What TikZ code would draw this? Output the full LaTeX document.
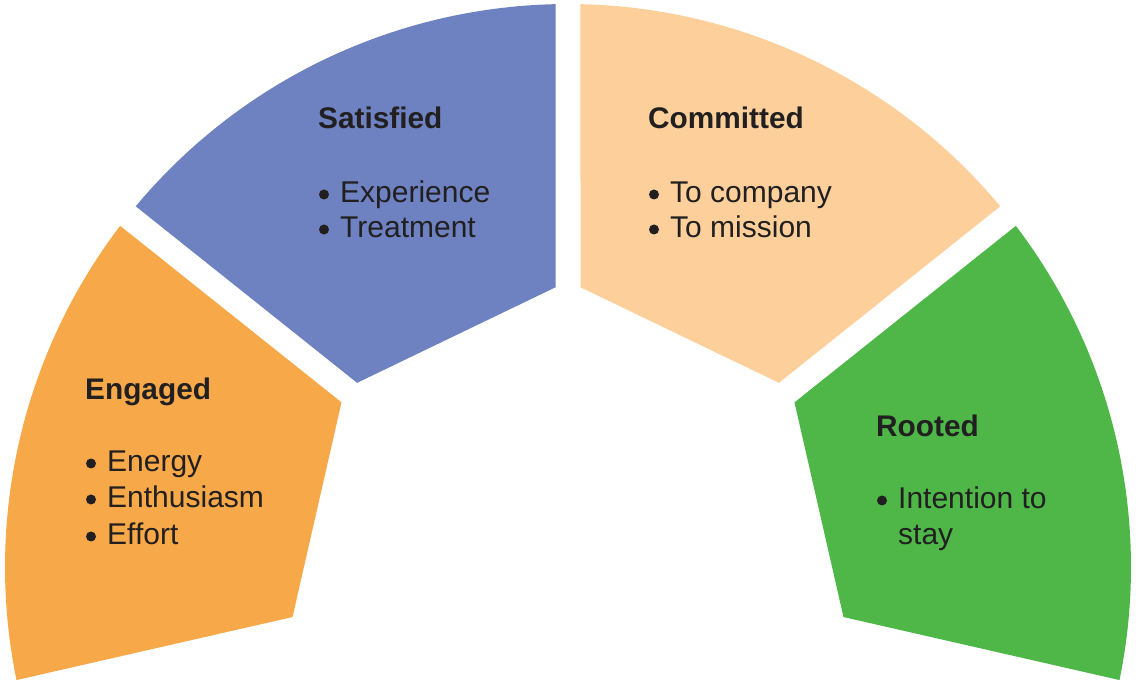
\documentclass[tikz,border=0pt]{standalone}
\usepackage{fontspec}
\setmainfont{Liberation Sans}
\definecolor{segorange}{RGB}{247,168,72}
\definecolor{segblue}{RGB}{110,129,192}
\definecolor{segpeach}{RGB}{253,208,155}
\definecolor{seggreen}{RGB}{78,183,72}
\definecolor{ink}{RGB}{34,31,32}
% bulleted line: name, position of text start, text
\newcommand{\bitem}[3]{%
  \node[item] (#1) at (#2) {#3};
  \fill[ink] (#1.base west) ++(-16,8.5) circle (5pt);}
\begin{document}
\begin{tikzpicture}[x=1pt,y=1pt,
  head/.style={anchor=base west,inner sep=0pt,
    font=\fontsize{29.8}{36}\selectfont\bfseries,text=ink},
  item/.style={anchor=base west,inner sep=0pt,
    font=\fontsize{30}{36}\selectfont,text=ink}]
\useasboundingbox (0,0) rectangle (1136,686);
\coordinate (O) at (568,119);
% four ring segments of 360/7 degrees each, separated by parallel-sided gaps
\begin{scope}[shift={(O)}]
  \foreach \a/\b/\c in {192.857/141.429/segorange, 141.429/90/segblue,
                        90/38.571/segpeach, 38.571/-12.857/seggreen}{
    \fill[\c] ({\a-1.272}:563pt)
      arc[start angle={\a-1.272}, end angle={\b+1.272}, radius=563pt]
      -- ({\b+2.559}:280pt) -- ({\a-2.559}:280pt) -- cycle;
  }
\end{scope}
% Engaged
\node[head] (eng) at (85,286) {Engaged};
\bitem{eng1}{107,214}{Energy}
\bitem{eng2}{107,178}{Enthusiasm}
\bitem{eng3}{107,141}{Effort}
% Satisfied
\node[head] (sat) at (318,557) {Satisfied};
\bitem{sat1}{340,483}{Experience}
\bitem{sat2}{340,448}{Treatment}
% Committed
\node[head] (com) at (648,557) {Committed};
\bitem{com1}{670,483}{To company}
\bitem{com2}{670,448}{To mission}
% Rooted
\node[head] (roo) at (876,249) {Rooted};
\bitem{roo1}{898,177}{Intention to}
\node[item] (roo2) at (898,141) {stay};
\end{tikzpicture}
\end{document}
